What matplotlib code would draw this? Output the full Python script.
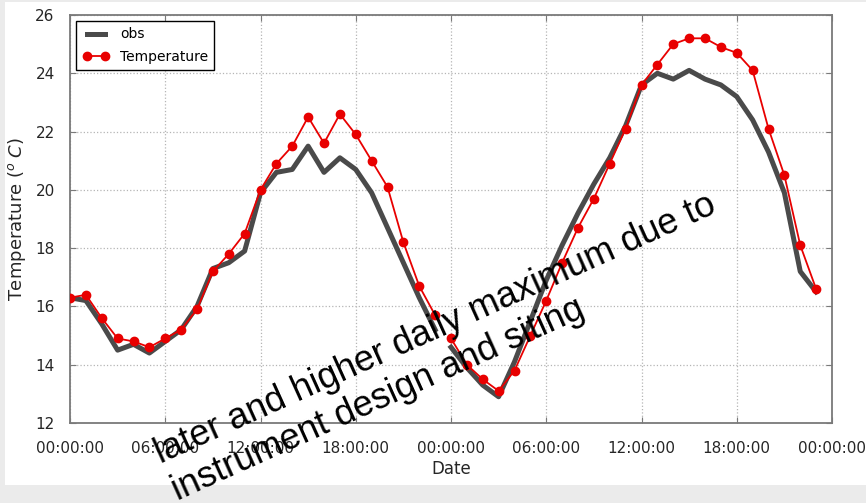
import numpy as np
import matplotlib
matplotlib.use("Agg")
import matplotlib.pyplot as plt
from matplotlib.patches import Rectangle
from matplotlib.ticker import FixedLocator, FuncFormatter

# hourly values, two days, hour 0 = first midnight
hours_day1 = np.arange(0, 24)
hours_day2 = np.arange(24, 48)

obs_day1 = [16.3, 16.2, 15.4, 14.5, 14.7, 14.4, 14.8, 15.2, 16.0, 17.3, 17.5, 17.9,
            19.9, 20.6, 20.7, 21.5, 20.6, 21.1, 20.7, 19.9, 18.7, 17.5, 16.3, 15.2]
obs_day2 = [14.6, 13.9, 13.3, 12.9, 14.1, 15.5, 16.9, 18.1, 19.2, 20.2, 21.1, 22.2,
            23.6, 24.0, 23.8, 24.1, 23.8, 23.6, 23.2, 22.4, 21.3, 19.9, 17.2, 16.5]

temp_day1 = [16.3, 16.4, 15.6, 14.9, 14.8, 14.6, 14.9, 15.2, 15.9, 17.2, 17.8, 18.5,
             20.0, 20.9, 21.5, 22.5, 21.6, 22.6, 21.9, 21.0, 20.1, 18.2, 16.7, 15.7]
temp_day2 = [14.9, 14.0, 13.5, 13.1, 13.8, 15.0, 16.2, 17.5, 18.7, 19.7, 20.9, 22.1,
             23.6, 24.3, 25.0, 25.2, 25.2, 24.9, 24.7, 24.1, 22.1, 20.5, 18.1, 16.6]

tick_hours = [0, 6, 12, 18, 24, 30, 36, 42, 48]
y_ticks = [12, 14, 16, 18, 20, 22, 24, 26]

note = "later and higher daily maximum due to\ninstrument design and siting"

# a nan between the days breaks the line
x = np.concatenate([hours_day1, [np.nan], hours_day2])
obs = np.concatenate([obs_day1, [np.nan], obs_day2])
temp = np.concatenate([temp_day1, [np.nan], temp_day2])

W, H = 866, 503
fig = plt.figure(figsize=(W / 100, H / 100), dpi=100, facecolor="#ebebeb")
fig.add_artist(Rectangle((5 / W, 18 / H), 1 - 5 / W, 1 - 20 / H,
                         transform=fig.transFigure, facecolor="white",
                         edgecolor="none", zorder=-5))

ax = fig.add_axes([70 / W, 80 / H, 762 / W, 408 / H])
ax.plot(x, obs, color="#4a4a4a", lw=3.6, label="obs", zorder=3)
ax.plot(x, temp, color="#e80000", lw=1.3, marker="o", ms=6,
        mec="#e80000", label="Temperature", zorder=4)

ax.set_xlim(0, 48)
ax.set_ylim(12, 26)
ax.xaxis.set_major_locator(FixedLocator(tick_hours))
ax.xaxis.set_major_formatter(FuncFormatter(lambda v, p: "%02d:00:00" % (int(v) % 24)))
ax.set_yticks(y_ticks)

ax.grid(True, color="#b5b5b5", ls=":", lw=0.9)
ax.set_axisbelow(True)
for s in ax.spines.values():
    s.set_color("#7a7a7a")
    s.set_linewidth(1.3)
ax.tick_params(axis="both", direction="in", length=4, color="#7a7a7a",
               top=True, right=True, labelsize=11, labelcolor="#262626")
ax.tick_params(axis="y", pad=11)
ax.tick_params(axis="x", pad=13)

ax.set_xlabel("Date", fontsize=12, color="#262626", labelpad=3)
ax.set_ylabel(r"Temperature ($^o\;C$)", fontsize=13, color="#262626", labelpad=5)

leg = ax.legend(loc="upper left", numpoints=2, fontsize=10, fancybox=False,
                framealpha=1, edgecolor="black", borderaxespad=0.45,
                handlelength=1.9, labelspacing=0.6, borderpad=0.45)
leg.get_frame().set_linewidth(1.0)

# anchor is the baseline start of the second line
fig.text(175 / W, 1 - 496 / H, note, transform=fig.transFigure,
         family="Liberation Sans", fontsize=26, color="black",
         rotation=24.3, rotation_mode="anchor", ha="left", va="baseline",
         multialignment="left", zorder=10)

fig.savefig("out.png", dpi=100, facecolor=fig.get_facecolor())
